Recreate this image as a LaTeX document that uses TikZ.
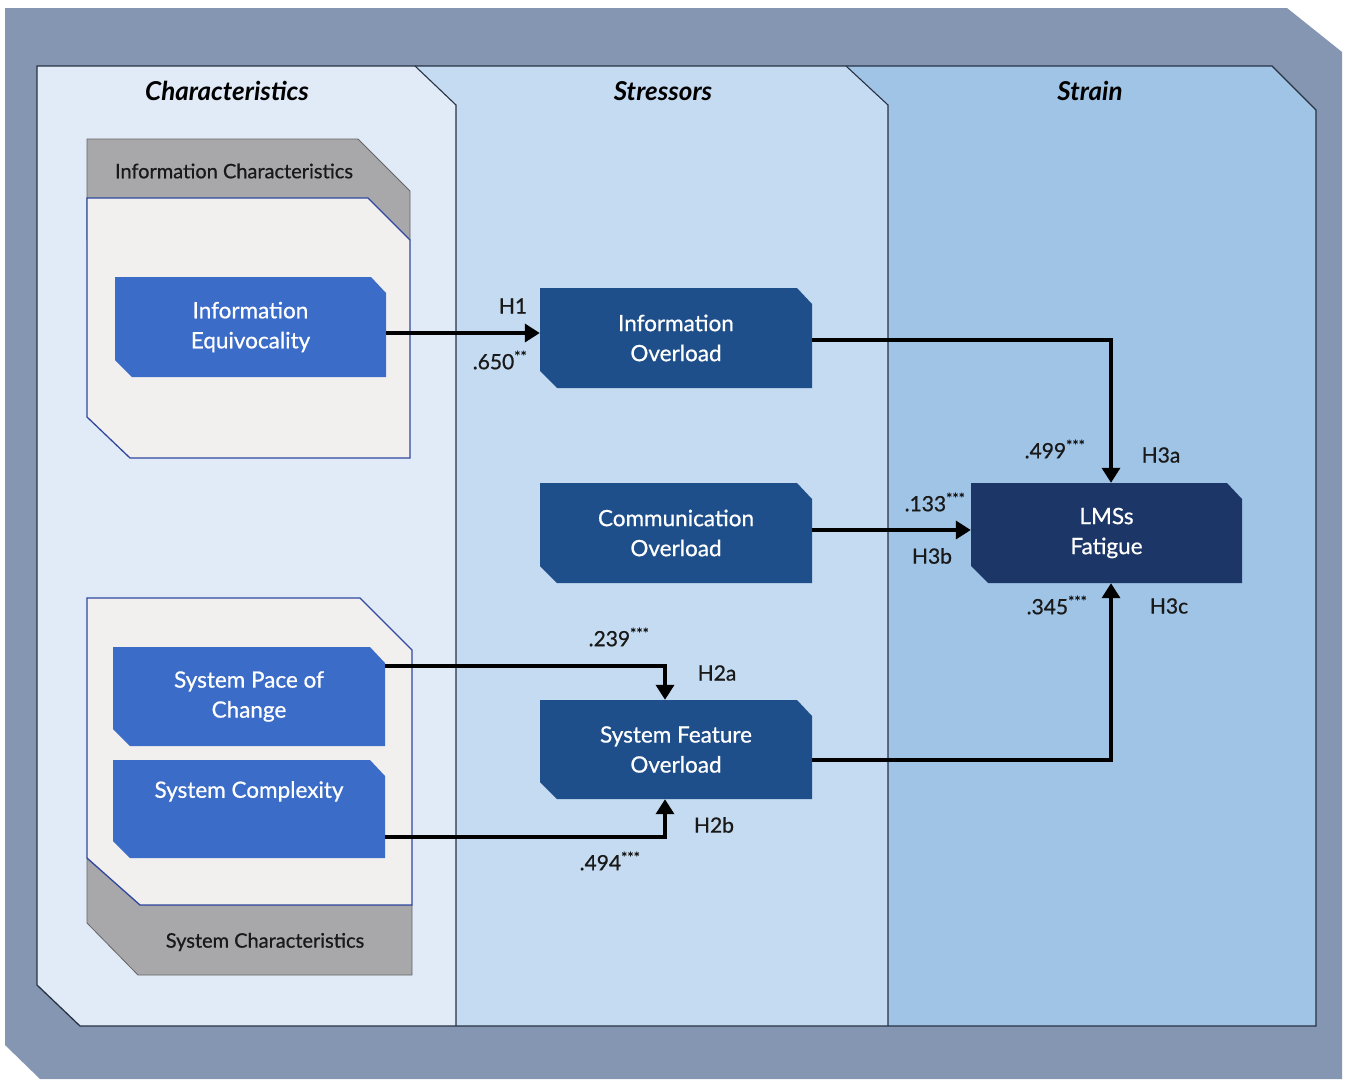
\documentclass[tikz,border=0pt]{standalone}
\usepackage{fontspec}
\setmainfont{Lato}
\newfontfamily\medfont{Lato}[FakeBold=0.7]
\usetikzlibrary{arrows.meta,calc}

\definecolor{frameslate}{RGB}{132,150,178}
\definecolor{colchar}{RGB}{224,235,247}
\definecolor{colstress}{RGB}{197,219,241}
\definecolor{colstrain}{RGB}{160,196,230}
\definecolor{panelline}{RGB}{40,50,66}
\definecolor{offwhite}{RGB}{242,240,238}
\definecolor{groupgray}{RGB}{168,168,170}
\definecolor{groupline}{RGB}{48,72,160}
\definecolor{antecedent}{RGB}{58,108,200}
\definecolor{stressor}{RGB}{31,79,138}
\definecolor{strainnode}{RGB}{29,54,104}
\definecolor{labeltext}{RGB}{25,25,25}

\begin{document}
\begin{tikzpicture}[x=1pt,y=-1pt,
  chbox/.style={draw=none, inner sep=0pt, text=white, align=center,
    font=\medfont\fontsize{22.5}{30}\selectfont,
    path picture={\fill[#1]
      (path picture bounding box.north west)
      -- ([xshift=-15pt]path picture bounding box.north east)
      -- ([yshift=-16pt]path picture bounding box.north east)
      -- (path picture bounding box.south east)
      -- ([xshift=17pt]path picture bounding box.south west)
      -- ([yshift=17pt]path picture bounding box.south west)
      -- cycle;}},
  coltitle/.style={font=\fontsize{26}{30}\selectfont\bfseries\itshape, text=black},
  grouptitle/.style={font=\medfont\fontsize{20}{24}\selectfont, text=labeltext},
  pathlabel/.style={font=\medfont\fontsize{21}{24}\selectfont, text=labeltext, inner sep=0pt}
  ,arr/.style={line width=3.5pt, -{Triangle[length=15pt,width=18pt]}}
]
\useasboundingbox (0,0) rectangle (1346,1079);

% outer frame
\fill[frameslate] (5,8) -- (1287,8) -- (1342,52) -- (1342,1079)
  -- (40,1079) -- (5,1045) -- cycle;

% three column panels
\fill[colchar] (37,66) -- (415,66) -- (456,105) -- (456,1026)
  -- (80,1026) -- (37,985) -- cycle;
\fill[colstress] (415,66) -- (846,66) -- (888,105) -- (888,1026)
  -- (456,1026) -- (456,105) -- cycle;
\fill[colstrain] (846,66) -- (1272,66) -- (1316,110) -- (1316,1026)
  -- (888,1026) -- (888,105) -- cycle;
\draw[panelline, line width=1.3pt] (37,66) -- (1272,66) -- (1316,110)
  -- (1316,1026) -- (80,1026) -- (37,985) -- cycle;
\draw[panelline, line width=1.1pt] (415,66) -- (456,105) -- (456,1026);
\draw[panelline, line width=1.1pt] (846,66) -- (888,105) -- (888,1026);

\node[coltitle] (tchar) at (227,91) {Characteristics};
\node[coltitle] (tstress) at (663,91) {Stressors};
\node[coltitle] (tstrain) at (1090,91) {Strain};

% information characteristics group
\filldraw[fill=groupgray, draw=gray!80!black, line width=0.8pt]
  (87,139) -- (358,139) -- (410,191) -- (410,240) -- (87,240) -- cycle;
\filldraw[fill=offwhite, draw=groupline, line width=1.3pt]
  (87,198) -- (368,198) -- (410,240) -- (410,458) -- (130,458) -- (87,417) -- cycle;
\node[grouptitle] (ginfo) at (234,171) {Information Characteristics};

% system characteristics group
\filldraw[fill=groupgray, draw=gray!80!black, line width=0.8pt]
  (87,858) -- (140,905) -- (412,905) -- (412,975) -- (138,975) -- (87,923) -- cycle;
\filldraw[fill=offwhite, draw=groupline, line width=1.3pt]
  (87,598) -- (360,598) -- (412,650) -- (412,905) -- (140,905) -- (87,858) -- cycle;
\node[grouptitle] (gsys) at (265,942) {System Characteristics};

% constructs
\node[chbox=antecedent, minimum width=271pt, minimum height=100pt]
  (ieq) at (250.5,327) {Information\\Equivocality};
\node[chbox=antecedent, minimum width=272pt, minimum height=99pt]
  (sysp) at (249,696.5) {System Pace of\\Change};
\node[chbox=antecedent, minimum width=272pt, minimum height=98pt]
  (sysc) at (249,809) {System Complexity\\\strut};
\node[chbox=stressor, minimum width=272pt, minimum height=100pt]
  (ino) at (676,338) {Information\\Overload};
\node[chbox=stressor, minimum width=272pt, minimum height=100pt]
  (cmo) at (676,533) {Communication\\Overload};
\node[chbox=stressor, minimum width=272pt, minimum height=99pt]
  (sfo) at (676,749.5) {System Feature\\Overload};
\node[chbox=strainnode, minimum width=271pt, minimum height=100pt]
  (lms) at (1106.5,533) {LMSs\\Fatigue};

% paths
\draw[arr] ([yshift=-6pt]ieq.east) -- ([yshift=-6pt]ieq.east -| ino.west);
\draw[arr] ([yshift=-2pt]ino.east) -| ([xshift=4.5pt]lms.north);
\draw[arr] ([yshift=3pt]cmo.east) -- ([yshift=3pt]cmo.east -| lms.west);
\draw[arr] ([yshift=-10.5pt]sfo.east) -| ([xshift=4.5pt]lms.south);
\draw[arr] ([yshift=30.5pt]sysp.east) -| ([xshift=-11pt]sfo.north);
\draw[arr] ([yshift=-28pt]sysc.east) -| ([xshift=-11pt]sfo.south);

% path coefficients and hypotheses
\node[pathlabel] (h1) at (513,306) {H1};
\node[pathlabel] (c1) at (500,360) {.650\textsuperscript{**}};
\node[pathlabel] (h3a) at (1161,455) {H3a};
\node[pathlabel] (c3a) at (1055,449) {.499\textsuperscript{***}};
\node[pathlabel] (h3b) at (932,556) {H3b};
\node[pathlabel] (c3b) at (935,502) {.133\textsuperscript{***}};
\node[pathlabel] (h3c) at (1169,606) {H3c};
\node[pathlabel] (c3c) at (1057,605) {.345\textsuperscript{***}};
\node[pathlabel] (h2a) at (717,673) {H2a};
\node[pathlabel] (c2a) at (619,637) {.239\textsuperscript{***}};
\node[pathlabel] (h2b) at (714,825) {H2b};
\node[pathlabel] (c2b) at (610,861) {.494\textsuperscript{***}};
\end{tikzpicture}
\end{document}
